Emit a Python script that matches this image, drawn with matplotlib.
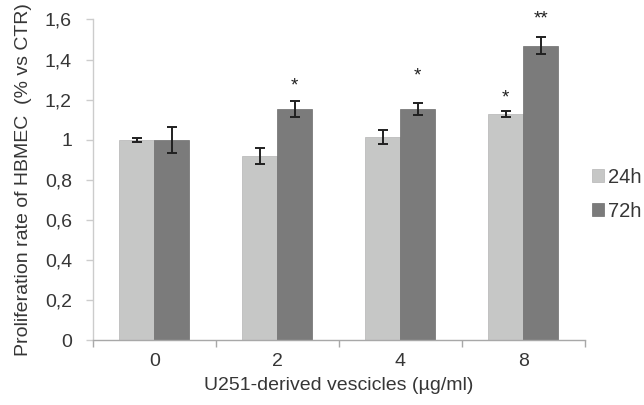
import matplotlib
matplotlib.use("Agg")
import matplotlib.pyplot as plt
import numpy as np

categories = ["0", "2", "4", "8"]
series_names = ["24h", "72h"]
values_24h = [1.00, 0.92, 1.013, 1.127]
values_72h = [1.00, 1.153, 1.153, 1.47]
err_24h = [0.01, 0.04, 0.035, 0.014]
err_72h = [0.064, 0.04, 0.03, 0.042]
stars_24h = ["", "", "", "*"]
stars_72h = ["", "*", "*", "**"]
star_y_24h = [None, None, None, 1.21]
star_y_72h = [None, 1.27, 1.32, 1.60]
yticks = [0, 0.2, 0.4, 0.6, 0.8, 1.0, 1.2, 1.4, 1.6]
ytick_labels = ["0", "0,2", "0,4", "0,6", "0,8", "1", "1,2", "1,4", "1,6"]

plt.rcParams['font.family'] = ['Liberation Sans', 'DejaVu Sans']
text_color = "#363636"
c24 = "#c6c7c6"
c72 = "#7b7b7b"
fs = 14

fig = plt.figure(figsize=(6.44, 4.05), dpi=100)
ax = fig.add_axes([0.144, 0.160, 0.764, 0.792])

x = np.arange(len(categories))
w = 0.285
ax.bar(x - w/2, values_24h, w, color=c24, edgecolor="#b5b5b5", linewidth=0.5, label=series_names[0], zorder=2)
ax.bar(x + w/2, values_72h, w, color=c72, edgecolor="#6e6e6e", linewidth=0.5, label=series_names[1], zorder=2)
ax.errorbar(x - w/2, values_24h, yerr=err_24h, fmt="none", ecolor="#202020", elinewidth=1.4, capsize=3.5, capthick=1.4, zorder=3)
ax.errorbar(x + w/2, values_72h, yerr=err_72h, fmt="none", ecolor="#202020", elinewidth=1.4, capsize=3.5, capthick=1.4, zorder=3)

for i in range(len(categories)):
    if stars_24h[i]:
        ax.text(x[i] - w/2, star_y_24h[i], stars_24h[i], ha="center", va="center", fontsize=13.5, color="#202020")
    if stars_72h[i]:
        ax.text(x[i] + w/2, star_y_72h[i], stars_72h[i], ha="center", va="center", fontsize=13.5, color="#202020")

ax.set_xlim(-0.5, len(categories) - 0.5)
ax.set_ylim(0, 1.6)
ax.set_yticks(yticks)
ax.set_yticklabels(ytick_labels)
ax.set_xticks(x)
ax.set_xticklabels(categories)
ax.set_xticks(np.arange(-0.5, len(categories), 1.0), minor=True)
ax.tick_params(axis="x", which="major", length=0, pad=9, labelsize=fs, labelcolor=text_color)
ax.tick_params(axis="x", which="minor", length=5, color="#a8a8a8", width=1)
ax.tick_params(axis="y", length=5, color="#cccccc", width=1, pad=10, labelsize=fs, labelcolor=text_color)

for s in ["top", "right"]:
    ax.spines[s].set_visible(False)
ax.spines["left"].set_color("#cccccc")
ax.spines["bottom"].set_color("#a8a8a8")
ax.spines["left"].set_linewidth(1)
ax.spines["bottom"].set_linewidth(1)

ax.set_xlabel("U251-derived vescicles (µg/ml)", fontsize=fs, color=text_color, labelpad=5)
ax.set_ylabel("Proliferation rate of HBMEC  (% vs CTR)", fontsize=fs, color=text_color, labelpad=9)

leg = ax.legend(loc="center left", bbox_to_anchor=(1.015, 0.455), frameon=False, fontsize=14.5,
                handlelength=0.6, handleheight=0.6, handletextpad=0.2, labelspacing=0.75,
                borderpad=0, borderaxespad=0, labelcolor=text_color)

fig.savefig("out.png", dpi=100)
